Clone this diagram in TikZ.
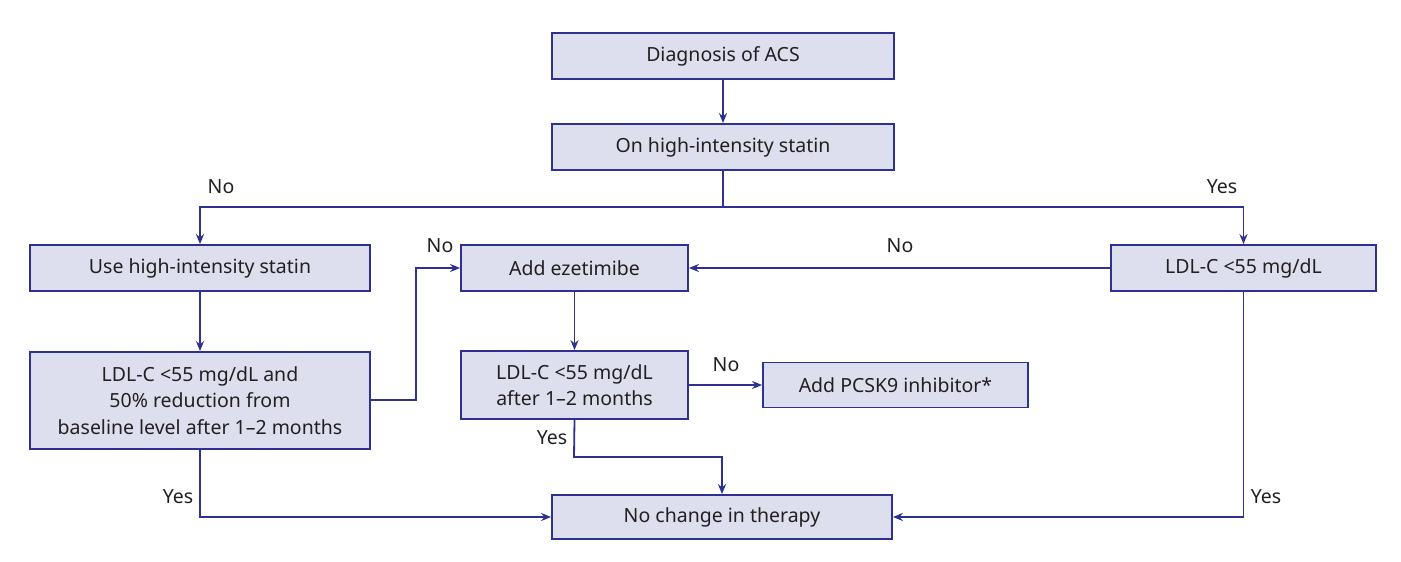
\documentclass[tikz,border=0pt]{standalone}
\usepackage{fontspec}
\setmainfont{Noto Sans}
\usetikzlibrary{arrows.meta}
\definecolor{boxfill}{HTML}{DDDFEE}
\definecolor{lineblue}{HTML}{2E3192}
\definecolor{txt}{HTML}{231F20}
\begin{document}
\begin{tikzpicture}[x=1pt,y=-1pt,
  box/.style={draw=lineblue,fill=boxfill,line width=1.8pt,inner sep=0pt,align=center,
    text=txt,font=\fontsize{19.5}{26.5}\selectfont},
  conn/.style={draw=lineblue,line width=1.8pt},
  arr/.style={conn,-{Stealth[length=10pt,width=8pt]}},
  lbl/.style={text=txt,font=\fontsize{19.5}{22}\selectfont,inner sep=0pt}]
\useasboundingbox[fill=white] (0,0) rectangle (1401,562);
\node[box,minimum width=342pt,minimum height=46pt] (diag) at (723,56) {Diagnosis of ACS};
\node[box,minimum width=342pt,minimum height=46pt] (onst) at (723,147) {On high-intensity statin};
\node[box,minimum width=340pt,minimum height=46pt] (use) at (200,268) {Use high-intensity statin};
\node[box,minimum width=340pt,minimum height=97pt] (ldla) at (200,400.5) {LDL-C \textless55 mg/dL and\\50\% reduction from\\baseline level after 1–2 months};
\node[box,minimum width=227pt,minimum height=46pt] (eze) at (574.5,268) {Add ezetimibe};
\node[box,minimum width=265pt,minimum height=46pt] (ldlc) at (1243.5,268) {LDL-C \textless55 mg/dL};
\node[box,minimum width=227pt,minimum height=68pt] (ldlb) at (574.5,385) {LDL-C \textless55 mg/dL\\after 1–2 months};
\node[box,minimum width=265pt,minimum height=45pt] (pcsk) at (895.5,385) {Add PCSK9 inhibitor*};
\node[box,minimum width=340pt,minimum height=44pt] (noch) at (722,517) {No change in therapy};
\coordinate (split) at (723,207);
\coordinate (bendl) at (416,400);
\coordinate (bendyes) at (574,457);
\draw[arr] (diag) -- (onst);
\draw[conn] (onst.south) -- (split);
\draw[arr] (split) -| (use.north);
\draw[arr] (split) -| (ldlc.north);
\draw[arr] (use) -- (ldla);
\draw[arr] (ldla.east |- bendl) -- (bendl) |- (eze.west);
\draw[arr] (ldlc.west) -- (eze.east);
\draw[arr] (eze) -- (ldlb);
\draw[arr] (ldlb.east) -- (pcsk.west);
\draw[arr] (ldlb.south) -- (bendyes) -| (noch.north);
\draw[arr] (ldla.south) |- (noch.west);
\draw[arr] (ldlc.south) |- (noch.east);
\node[lbl] (l1) at (221,187) {No};
\node[lbl] (l2) at (1222,187) {Yes};
\node[lbl] (l3) at (440,246) {No};
\node[lbl] (l4) at (900,246) {No};
\node[lbl] (l5) at (726,365) {No};
\node[lbl] (l6) at (552,438) {Yes};
\node[lbl] (l7) at (178,497) {Yes};
\node[lbl] (l8) at (1266,497) {Yes};
\end{tikzpicture}
\end{document}
